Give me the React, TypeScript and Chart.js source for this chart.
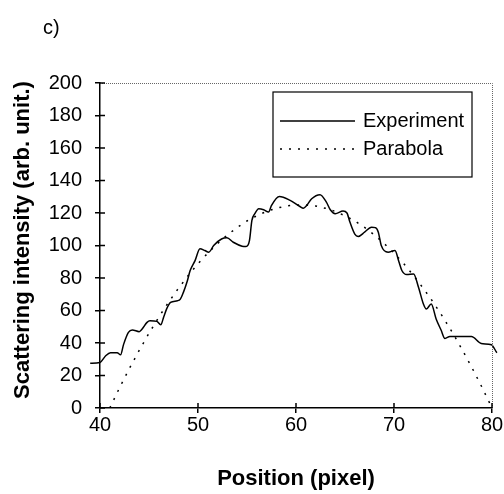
import React, { useEffect, useRef } from "react";
import { Chart, registerables } from "chart.js";

Chart.register(...registerables);

const panelLabel = "c)";
const seriesNames = ["Experiment", "Parabola"];
const xTitle = "Position (pixel)";
const yTitle = "Scattering intensity (arb. unit.)";

const expX = [
  39.0, 40.0, 40.56, 41.07, 41.75, 42.1, 42.4, 42.9, 43.3, 44.0, 44.3, 44.8, 45.1, 45.8, 46.2, 46.5,
  46.8, 47.2, 47.9, 48.2, 48.5, 48.9, 49.2, 49.7, 50.2, 50.7, 51.1, 51.6, 52.4, 52.95, 53.6, 54.5,
  54.9, 55.25, 55.5, 55.8, 56.2, 56.7, 57.2, 57.5, 58.3, 59.4, 60.4, 60.75, 61.1, 61.6, 62.45, 63.1,
  63.5, 64.0, 64.8, 65.2, 65.5, 66.0, 66.35, 67.0, 67.7, 68.1, 68.4, 68.7, 69.4, 70.1, 70.5, 70.8,
  71.3, 72.0, 72.5, 73.0, 73.3, 73.8, 74.3, 74.8, 75.2, 75.7, 77.9, 78.9, 79.94, 80.5, 81.0,
];
const expY = [
  27.5, 28, 32, 34, 34, 32.7, 39, 46.5, 48, 47, 48.6, 52.7, 53.7, 53.3, 51.2, 56,
  61, 65, 66, 67, 71, 78, 84.6, 90.7, 98, 96.9, 95.9, 100, 104, 104.7, 102, 99.6,
  99.4, 103, 115.4, 119.6, 122.6, 122, 120.6, 124.7, 130.2, 127.8, 124, 123, 124.7, 128.8, 131.3, 126.7,
  122, 119.6, 121.2, 120, 114.4, 107, 105.6, 108.2, 111.3, 111, 108.2, 100, 95.9, 96.9, 90, 84.6,
  82.1, 82.5, 74.3, 64, 60.9, 64, 54.8, 48, 42.8, 44, 44, 39.7, 38.9, 34, 31,
];

const paraX = [
  41, 42, 43, 44, 45, 46, 47, 48, 49, 50, 51, 52, 53, 54, 55, 56, 57, 58, 59, 60,
  61, 62, 63, 64, 65, 66, 67, 68, 69, 70, 71, 72, 73, 74, 75, 76, 77, 78, 79, 80,
];
const paraY = [
  0, 12.5, 24.3, 35.5, 46.0, 55.9, 65.1, 73.6, 81.5, 88.8, 95.3, 101.2, 106.5, 111.1, 115.1, 118.3, 121.0, 122.9, 124.3, 124.9,
  124.9, 124.3, 122.9, 121.0, 118.3, 115.1, 111.1, 106.5, 101.2, 95.3, 88.8, 81.5, 73.6, 65.1, 55.9, 46.0, 35.5, 24.3, 12.5, 0,
];

const FONT = "'Liberation Sans', Arial, sans-serif";
const PARA_DASH = [2, 7];

const decorPlugin = {
  id: "decor",
  afterDraw(chart: any) {
    const ctx = chart.ctx;
    const { left, right, top, bottom } = chart.chartArea;
    ctx.save();
    // panel label
    ctx.fillStyle = "#000";
    ctx.font = `20px ${FONT}`;
    ctx.textAlign = "left";
    ctx.textBaseline = "middle";
    ctx.fillText(panelLabel, 43, 28);

    // y-axis title
    ctx.save();
    ctx.translate(23, 240);
    ctx.rotate(-Math.PI / 2);
    ctx.font = `bold 22px ${FONT}`;
    ctx.textAlign = "center";
    ctx.textBaseline = "middle";
    ctx.fillText(yTitle, 0, 0);
    ctx.restore();

    // top & right frame (thin dotted grey)
    ctx.strokeStyle = "#666";
    ctx.lineWidth = 1;
    ctx.setLineDash([1, 1]);
    ctx.beginPath();
    ctx.moveTo(left, top + 0.5);
    ctx.lineTo(right + 0.5, top + 0.5);
    ctx.lineTo(right + 0.5, bottom);
    ctx.stroke();
    ctx.setLineDash([]);

    // inner tick marks (crossing ticks)
    ctx.strokeStyle = "#000";
    ctx.lineWidth = 1.5;
    const ys = chart.scales.y;
    const xs = chart.scales.x;
    ctx.beginPath();
    ys.ticks.forEach((t: any) => {
      const py = ys.getPixelForValue(t.value);
      ctx.moveTo(left, py);
      ctx.lineTo(left + 5, py);
    });
    xs.ticks.forEach((t: any) => {
      const px = xs.getPixelForValue(t.value);
      ctx.moveTo(px, bottom);
      ctx.lineTo(px, bottom - 5);
    });
    ctx.stroke();

    // legend box
    const bx = right - 219;
    const by = top + 9;
    const bw = 199;
    const bh = 85;
    ctx.fillStyle = "#fff";
    ctx.fillRect(bx, by, bw, bh);
    ctx.strokeStyle = "#000";
    ctx.lineWidth = 1.2;
    ctx.strokeRect(bx, by, bw, bh);

    const rows = [by + 29, by + 57];
    ctx.lineWidth = 1.5;
    ctx.beginPath();
    ctx.moveTo(bx + 7, rows[0]);
    ctx.lineTo(bx + 82, rows[0]);
    ctx.stroke();
    ctx.setLineDash(PARA_DASH);
    ctx.beginPath();
    ctx.moveTo(bx + 7, rows[1]);
    ctx.lineTo(bx + 82, rows[1]);
    ctx.stroke();
    ctx.setLineDash([]);

    ctx.fillStyle = "#000";
    ctx.font = `20px ${FONT}`;
    ctx.textAlign = "left";
    ctx.textBaseline = "middle";
    ctx.fillText(seriesNames[0], bx + 90, rows[0]);
    ctx.fillText(seriesNames[1], bx + 90, rows[1]);
    ctx.restore();
  },
};

export default function App() {
  const ref = useRef<HTMLCanvasElement | null>(null);
  useEffect(() => {
    if (!ref.current) return;
    const chart = new Chart(ref.current, {
      type: "scatter",
      data: {
        datasets: [
          {
            label: seriesNames[1],
            data: paraX.map((x, i) => ({ x, y: paraY[i] })),
            showLine: true,
            borderColor: "#000",
            borderWidth: 1.5,
            borderDash: PARA_DASH,
            pointRadius: 0,
            tension: 0,
          },
          {
            label: seriesNames[0],
            data: expX.map((x, i) => ({ x, y: expY[i] })),
            showLine: true,
            borderColor: "#000",
            borderWidth: 1.5,
            pointRadius: 0,
            cubicInterpolationMode: "monotone",
            clip: false,
          } as any,
        ],
      },
      options: {
        animation: false,
        responsive: false,
        maintainAspectRatio: false,
        layout: { padding: { top: 83, right: 12, bottom: 0, left: 0 } },
        plugins: { legend: { display: false }, tooltip: { enabled: false } },
        scales: {
          x: {
            type: "linear",
            min: 40,
            max: 80,
            ticks: { stepSize: 10, color: "#000", font: { family: FONT, size: 20 }, padding: 0, maxRotation: 0 },
            grid: { drawOnChartArea: false, drawTicks: true, tickLength: 5, color: "#000", lineWidth: 1.5 },
            border: { display: true, color: "#000", width: 1.5 },
            title: {
              display: true,
              text: xTitle,
              color: "#000",
              font: { family: FONT, size: 22, weight: "bold" },
              padding: { top: 0, bottom: 2 },
            },
            afterFit: (s: any) => {
              s.height = 86;
            },
          },
          y: {
            min: 0,
            max: 200,
            ticks: { stepSize: 20, color: "#000", font: { family: FONT, size: 20 }, padding: 13 },
            grid: { drawOnChartArea: false, drawTicks: true, tickLength: 5, color: "#000", lineWidth: 1.5 },
            border: { display: true, color: "#000", width: 1.5 },
            afterFit: (s: any) => {
              s.width = 100;
            },
          },
        },
      },
      plugins: [decorPlugin],
    });
    return () => chart.destroy();
  }, []);
  return (
    <div style={{ position: "fixed", left: 0, top: 0, width: 504, height: 494, background: "#fff" }}>
      <canvas ref={ref} width={504} height={494} style={{ width: 504, height: 494 }} />
    </div>
  );
}
